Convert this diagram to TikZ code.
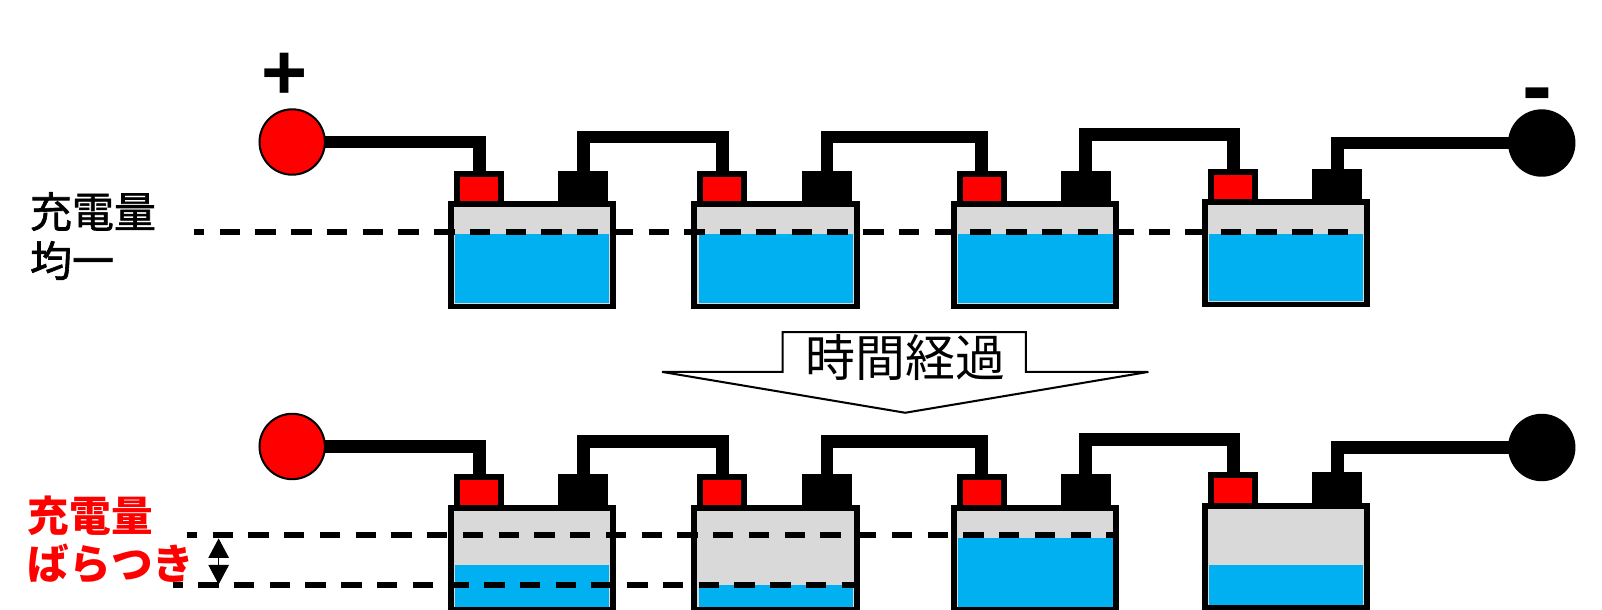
\documentclass[tikz,border=0pt]{standalone}
\usepackage{xcolor}
\usepackage{fontspec}
\usepackage{tikz}
\usetikzlibrary{arrows.meta}
\newfontfamily\jpfont{Noto Sans CJK JP}
\newfontfamily\jpmidfont[FakeBold=1.5]{Noto Sans CJK JP}
\newfontfamily\signfont{Liberation Sans}
\definecolor{casegrey}{HTML}{D9D9D9}
\definecolor{waterblue}{HTML}{00B0F0}
\tikzset{
  cell/.style={draw=black,line width=0.115cm,fill=casegrey,anchor=north west,inner sep=0pt,outer sep=0pt,minimum width=3.18cm,minimum height=2cm},
  redpost/.style={draw=black,line width=0.12cm,fill=red,inner sep=0pt,outer sep=0pt,minimum width=0.86cm,minimum height=0.6cm},
  blackpost/.style={redpost,fill=black},
  pole/.style={circle,draw=black,line width=0.04cm,inner sep=0pt,outer sep=0pt,minimum size=1.28cm},
  wire/.style={line width=0.25cm,black},
  level/.style={line width=0.115cm,black,dash pattern=on 0.4cm off 0.3cm,dash phase=0.2cm},
  lab/.style={anchor=west,inner sep=0pt,font=\jpmidfont\fontsize{23.4}{24}\selectfont},
  redlab/.style={lab,text=red,font=\jpfont\bfseries\fontsize{23.2}{24}\selectfont}
}
\begin{document}
\begin{tikzpicture}[x=0.02cm,y=-0.02cm]
  \useasboundingbox (0,0) rectangle (1568,597);
  % batteries: name / left / top / water level / red post / black post
  \foreach \n/\x/\y/\w/\r/\b in {a/441/200/229/28/130,b/679.5/200/229/27.5/130,c/933.5/200/229/27.5/129,d/1179/198/229/28/130,
                                 e/441/497/553/28/130,f/679.5/497/573/27.5/130,g/933.5/497/527/27.5/129,h/1179/495/553/28/130}{
    \node[redpost] (rp\n) at (\x+\r,\y-15) {};
    \node[blackpost] (bp\n) at (\x+\b,\y-15) {};
    \node[cell] (case\n) at (\x,\y) {};
    \fill[waterblue] (\x+4.5,\w) rectangle (\x+155.5,\y+97);
  }
  % terminals
  \node[pole,fill=red] (plusa) at (286,139) {};
  \node[pole,fill=black] (minusa) at (1509,140) {};
  \node[pole,fill=red] (pluse) at (286,437) {};
  \node[pole,fill=black] (minuse) at (1509,438) {};
  \node[inner sep=0pt,font=\signfont\bfseries\fontsize{44}{44}\selectfont] (plussign) at (279,75) {+};
  \node[inner sep=0pt,font=\signfont\bfseries\fontsize{50}{50}\selectfont] (minussign) at (1505,100) {-};
  % wires upper row
  \draw[wire] (plusa.east) -| (rpa.north);
  \draw[wire] (bpa.north) -- ++(0,-36) -| (rpb.north);
  \draw[wire] (bpb.north) -- ++(0,-36) -| (rpc.north);
  \draw[wire] (bpc.north) -- ++(0,-38) -| (rpd.north);
  \draw[wire] (bpd.north) |- (minusa.west);
  % wires lower row
  \draw[wire] (pluse.east) -| (rpe.north);
  \draw[wire] (bpe.north) -- ++(0,-35) -| (rpf.north);
  \draw[wire] (bpf.north) -- ++(0,-35) -| (rpg.north);
  \draw[wire] (bpg.north) -- ++(0,-37) -| (rph.north);
  \draw[wire] (bph.north) |- (minuse.west);
  % levels
  \coordinate (leva) at (190,227);
  \coordinate (levb) at (1335,227);
  \coordinate (levc) at (183,524);
  \coordinate (levd) at (1090,524);
  \coordinate (leve) at (169,573);
  \coordinate (levf) at (840,573);
  \coordinate (gapa) at (214,527);
  \coordinate (gapb) at (214,572);
  \draw[level] (leva) -- (levb);
  \draw[level] (levc) -- (levd);
  \draw[level] (leve) -- (levf);
  \draw[{Triangle[length=0.38cm,width=0.4cm]}-{Triangle[length=0.38cm,width=0.4cm]},line width=0.02cm] (gapa) -- (gapb);
  % labels
  \node[lab] (fulla) at (29,207) {充電量};
  \node[lab] (fullb) at (29,255) {均一};
  \node[redlab] (spreada) at (27,505) {充電量};
  \node[redlab] (spreadb) at (27,552) {ばらつき};
  % time arrow
  \draw[line width=0.04cm,fill=white] (766,325) -- (1004,325) -- (1004,364) -- (1124,364) -- (886,404) -- (648,364) -- (766,364) -- cycle;
  \node[inner sep=0pt,font=\jpfont\fontsize{27.8}{28}\selectfont] (elapsed) at (886,350) {時間経過};
\end{tikzpicture}
\end{document}
